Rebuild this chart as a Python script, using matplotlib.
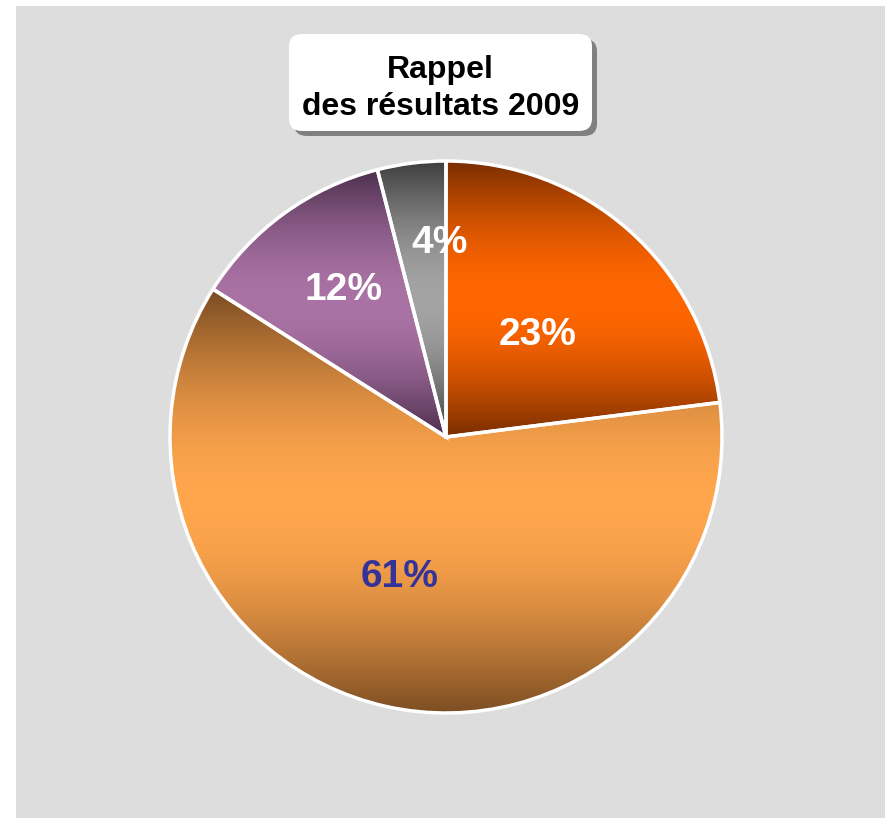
import matplotlib
matplotlib.use("Agg")
import matplotlib.pyplot as plt
import numpy as np
from matplotlib.colors import LinearSegmentedColormap
from matplotlib.patches import FancyBboxPatch, Rectangle

plt.rcParams["font.family"] = ["Liberation Sans", "DejaVu Sans"]

# data
shares = [23, 61, 12, 4]
labels = ["23%", "61%", "12%", "4%"]
dark_colors = ["#7A2E00", "#7A4C22", "#4D2F4E", "#3E3E3E"]
light_colors = ["#FF6600", "#FFA64D", "#A972A4", "#A3A3A3"]
label_colors = ["white", "#333399", "white", "white"]
label_pos = [(0.333, 0.370), (-0.167, -0.507), (-0.370, 0.533), (-0.022, 0.703)]
title = "Rappel\ndes résultats 2009"

W, H = 885, 818
fig = plt.figure(figsize=(W / 100, H / 100), dpi=100)
fig.patch.set_facecolor("white")

# grey panel
fig.add_artist(Rectangle((16 / W, 0), 1 - 16 / W, (H - 6) / H,
                         transform=fig.transFigure, facecolor="#DDDDDD",
                         edgecolor="none", zorder=0))

# pie axes, centre (446, 437) px, radius 276 px
cx, cy, r = 446, 437, 276
ax = fig.add_axes([(cx - r) / W, (H - cy - r) / H, 2 * r / W, 2 * r / H])
ax.patch.set_alpha(0)

wedges, _ = ax.pie(shares, startangle=90, counterclock=False,
                   wedgeprops=dict(facecolor="none", edgecolor="white",
                                   linewidth=2.5, zorder=3))

# vertical dark-light-dark shading per slice
t = np.linspace(0, 1, 512)
profile = np.sin(np.pi * t).reshape(-1, 1)
for w, dk, lt in zip(wedges, dark_colors, light_colors):
    verts = w.get_path().vertices
    y0, y1 = verts[:, 1].min(), verts[:, 1].max()
    cmap = LinearSegmentedColormap.from_list("g", [dk, lt])
    im = ax.imshow(profile, cmap=cmap, vmin=0, vmax=1, aspect="auto",
                   origin="lower", extent=(-1, 1, y0, y1), zorder=1,
                   interpolation="bilinear")
    im.set_clip_path(w)
    w.set_clip_on(False)

ax.set_xlim(-1, 1)
ax.set_ylim(-1, 1)

for txt, (x, y), c in zip(labels, label_pos, label_colors):
    ax.text(x, y, txt, ha="center", va="center", fontsize=28,
            fontweight="bold", color=c, zorder=5)

# title box with shadow
bx0, by0, bx1, by1 = 289, 34, 592, 131
for off, fc in [(5, "#808080"), (0, "white")]:
    fig.add_artist(FancyBboxPatch(((bx0 + off) / W, (H - by1 - off) / H),
                                  (bx1 - bx0) / W, (by1 - by0) / H,
                                  boxstyle="round,pad=0,rounding_size=0.015",
                                  transform=fig.transFigure, facecolor=fc,
                                  edgecolor="none", zorder=4))
fig.text((bx0 + bx1) / 2 / W, (H - (by0 + by1) / 2 - 6) / H, title,
         ha="center", va="center", fontsize=23, fontweight="bold",
         linespacing=1.28, color="black", zorder=5)

fig.savefig("out.png", dpi=100)
